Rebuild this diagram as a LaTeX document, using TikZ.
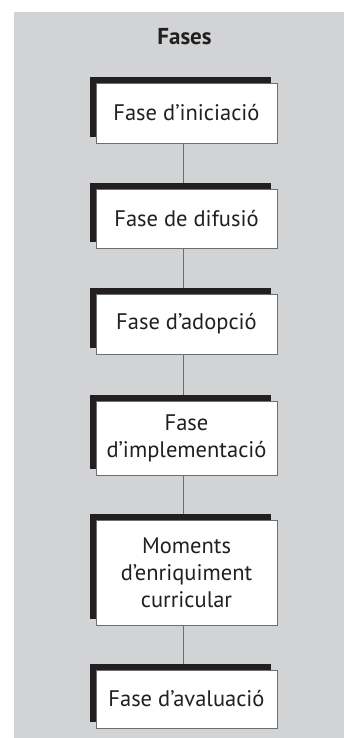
\documentclass[tikz,border=0pt]{standalone}
\usepackage{fontspec}
\setmainfont{PT Sans}
\usepackage{tikz}
\usetikzlibrary{shadows}
\definecolor{panel}{HTML}{d1d3d4}
\definecolor{ink}{HTML}{231f20}
\definecolor{rule}{HTML}{6d6e71}

\begin{document}
\begin{tikzpicture}[x=1pt, y=-1pt, every node/.style={font=\fontsize{22.5}{27}\selectfont, align=center, inner sep=4pt, text=ink},
  fase/.style={draw=rule, line width=0.8pt, fill=white, minimum width=181pt, drop shadow={shadow xshift=-6pt, shadow yshift=6pt, fill=ink, opacity=1}},
  link/.style={draw=rule, line width=1.3pt}]
\useasboundingbox (0,0) rectangle (344,738);
\fill[panel] (14,12) rectangle (344,738);
\node[font=\fontsize{23}{27}\selectfont\bfseries] (title) at (184.5,37) {Fases};
\node[fase, minimum height=60pt] (b1) at (186.5,113) {Fase d’iniciació};
\node[fase, minimum height=59pt] (b2) at (186.5,218.5) {Fase de difusió};
\node[fase, minimum height=60pt] (b3) at (186.5,324) {Fase d’adopció};
\node[fase, minimum height=74pt] (b4) at (186.5,438) {Fase\\d’implementació};
\node[fase, minimum height=105pt] (b5) at (186.5,572.5) {Moments\\d’enriquiment\\curricular};
\node[fase, minimum height=58pt] (b6) at (186.5,699) {Fase d’avaluació};
\draw[link] ([xshift=-3pt]b1.south) -- ([xshift=-3pt,yshift=6pt]b2.north);
\draw[link] ([xshift=-3pt]b2.south) -- ([xshift=-3pt,yshift=6pt]b3.north);
\draw[link] ([xshift=-3pt]b3.south) -- ([xshift=-3pt,yshift=6pt]b4.north);
\draw[link] ([xshift=-3pt]b4.south) -- ([xshift=-3pt,yshift=6pt]b5.north);
\draw[link] ([xshift=-3pt]b5.south) -- ([xshift=-3pt,yshift=6pt]b6.north);
\end{tikzpicture}
\end{document}
